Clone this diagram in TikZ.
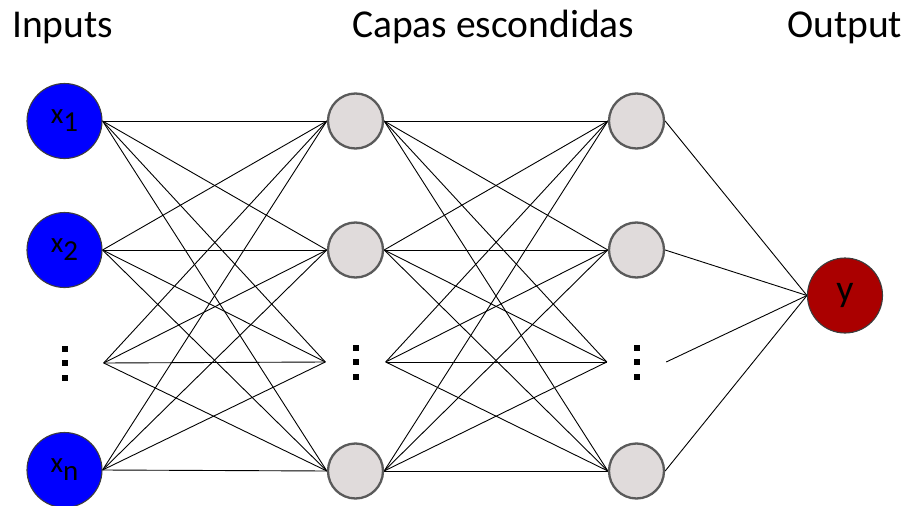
\documentclass[tikz,border=0pt]{standalone}
\usepackage{fontspec}
\setmainfont{Carlito}
\usetikzlibrary{backgrounds}

\definecolor{inblue}{RGB}{0,0,255}
\definecolor{hidgray}{RGB}{224,219,219}
\definecolor{hidedge}{RGB}{90,90,90}
\definecolor{outred}{RGB}{170,0,0}
\definecolor{rimdark}{RGB}{60,60,60}

% three square dots stacked vertically
\newcommand{\sqdots}{\vbox{\offinterlineskip
  \hbox{\rule{6pt}{6pt}}\vskip8.5pt
  \hbox{\rule{6pt}{6pt}}\vskip8.5pt
  \hbox{\rule{6pt}{6pt}}}}
% input label with a lowered index
\newcommand{\invar}[1]{x\raisebox{-8pt}{#1}}

\tikzset{
  title/.style={anchor=base west, inner sep=0pt, font=\fontsize{39.5}{42}\selectfont},
  inunit/.style={circle, draw=rimdark, line width=1.1pt, fill=inblue,
    minimum size=75pt, inner sep=0pt, font=\fontsize{29}{32}\selectfont},
  hidunit/.style={circle, draw=hidedge, line width=2.3pt, fill=hidgray,
    minimum size=55pt, inner sep=0pt},
  outunit/.style={circle, draw=rimdark, line width=1.1pt, fill=outred,
    minimum size=75pt, inner sep=0pt, font=\fontsize{38}{40}\selectfont},
  dotrow/.style={inner sep=0pt, minimum height=36pt},
  link/.style={draw=black, line width=0.9pt},
}

\begin{document}
\begin{tikzpicture}[x=1pt, y=-1pt]
  \useasboundingbox (0,0) rectangle (906,506);

  % layer titles
  \node[title] (tin)  at (12,37.5)  {Inputs};
  \node[title] (thid) at (352,37.5) {Capas escondidas};
  \node[title] (tout) at (787,37.5) {Output};

  % input layer
  \node[inunit] (i1) at (64.5,121) {\invar{1}};
  \node[inunit] (i2) at (64.5,250) {\invar{2}};
  \node[dotrow, minimum width=77pt] (i3) at (65,363) {\sqdots};
  \node[inunit] (i4) at (64.5,470) {\invar{n}};

  % first hidden layer
  \node[hidunit] (h1) at (355.5,121) {};
  \node[hidunit] (h2) at (355.5,250) {};
  \node[dotrow, minimum width=60pt] (h3) at (355.5,362) {\sqdots};
  \node[hidunit] (h4) at (355.5,471) {};

  % second hidden layer
  \node[hidunit] (g1) at (636.5,121) {};
  \node[hidunit] (g2) at (636.5,250) {};
  \node[dotrow, minimum width=59pt] (g3) at (636.5,362) {\sqdots};
  \node[hidunit] (g4) at (636.5,471) {};

  % output unit
  \node[outunit] (y) at (845,295.5) {y};

  % fully connected links
  \begin{scope}[on background layer]
    \foreach \a in {i1,i2,i3,i4}
      \foreach \b in {h1,h2,h3,h4}
        \draw[link] (\a.east) -- (\b.west);
    \foreach \a in {h1,h2,h3,h4}
      \foreach \b in {g1,g2,g3,g4}
        \draw[link] (\a.east) -- (\b.west);
    \foreach \a in {g1,g2,g3,g4}
      \draw[link] (\a.east) -- (y.west);
  \end{scope}
\end{tikzpicture}
\end{document}
